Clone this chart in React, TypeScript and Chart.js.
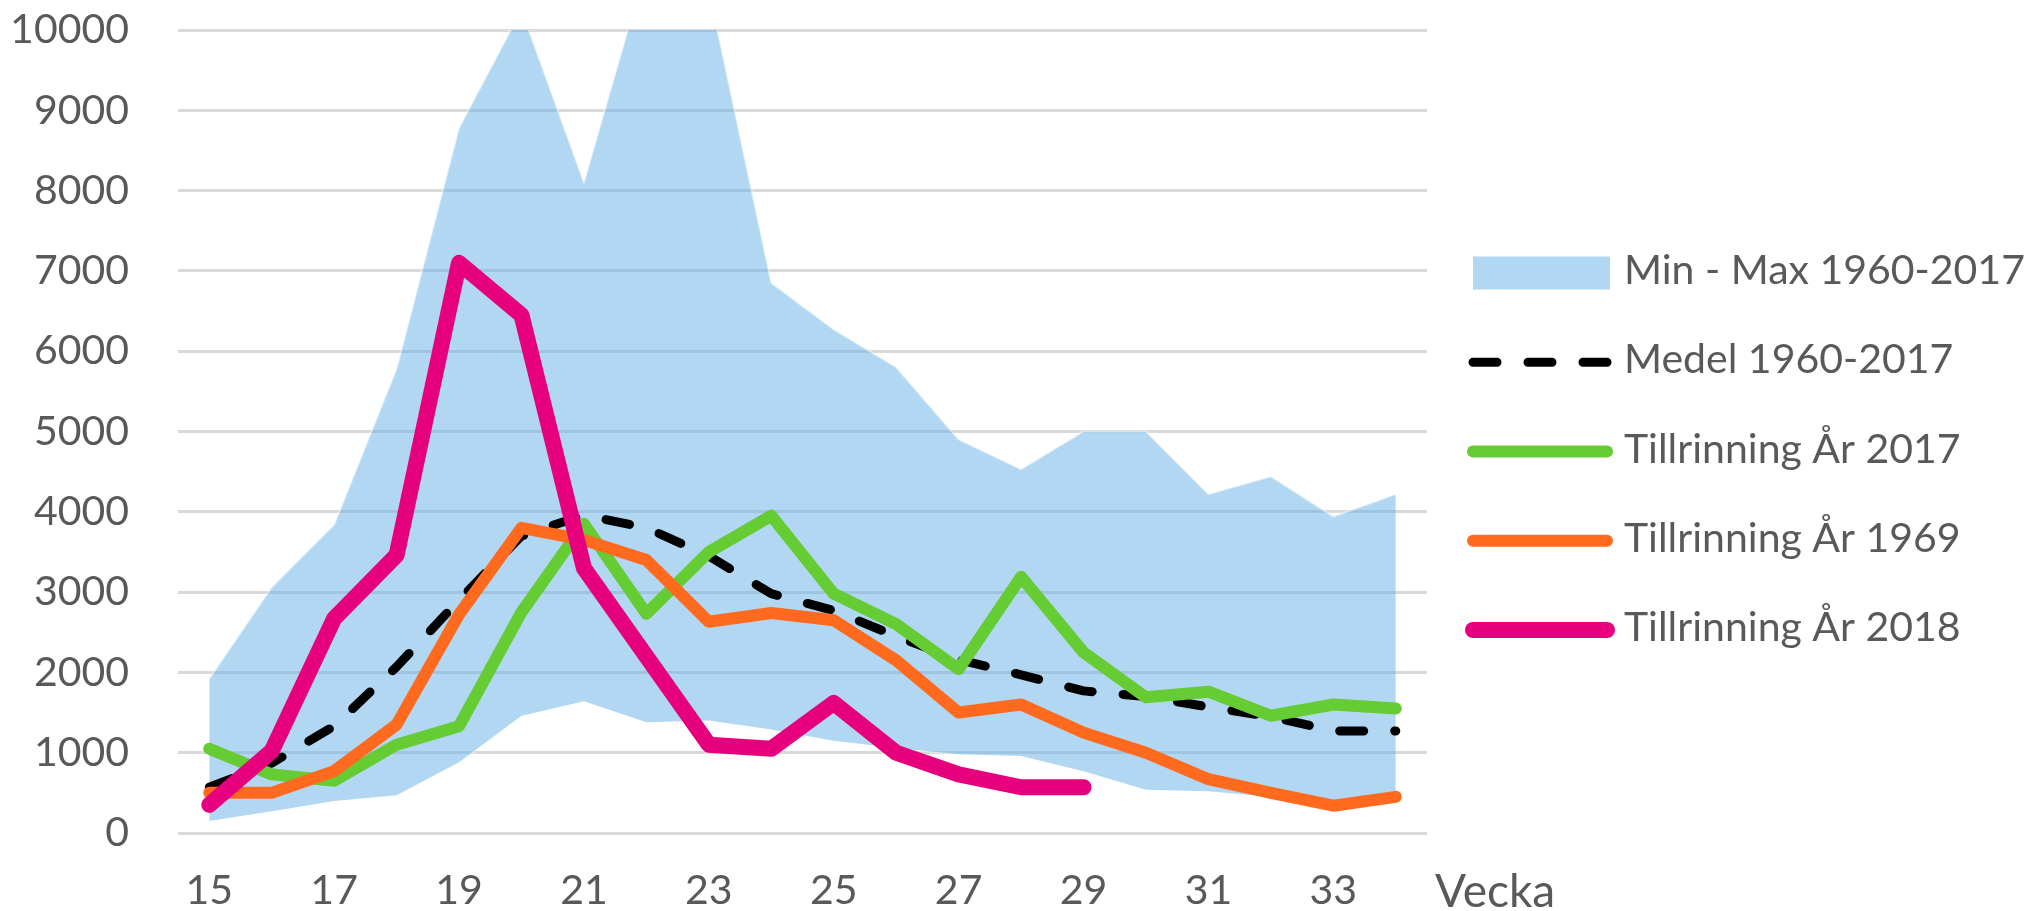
import React, { useEffect, useRef } from 'react';
import { Chart, registerables } from 'chart.js';

Chart.register(...registerables);

// ---- data ----
const weeks = ['15', '16', '17', '18', '19', '20', '21', '22', '23', '24', '25', '26', '27', '28', '29', '30', '31', '32', '33', '34'];
const minFlow = [150, 270, 400, 470, 880, 1460, 1640, 1380, 1400, 1290, 1150, 1060, 980, 960, 770, 540, 520, 450, 330, 400];
const maxFlow = [1920, 3060, 3840, 5780, 8780, 10250, 8100, 10800, 10500, 6850, 6270, 5800, 4900, 4530, 5000, 5000, 4220, 4440, 3940, 4220];
const meanFlow = [570, 870, 1330, 2070, 2900, 3700, 3960, 3800, 3450, 2980, 2770, 2450, 2160, 1970, 1770, 1700, 1570, 1450, 1270, 1270];
const flow2017 = [1050, 730, 650, 1100, 1330, 2750, 3850, 2730, 3500, 3950, 2980, 2600, 2040, 3190, 2250, 1690, 1760, 1460, 1600, 1550];
const flow1969 = [500, 500, 770, 1350, 2720, 3800, 3650, 3400, 2630, 2740, 2650, 2150, 1500, 1600, 1250, 1000, 670, 500, 340, 450];
const flow2018 = [350, 1020, 2670, 3460, 7100, 6450, 3300, 2200, 1100, 1050, 1620, 1000, 730, 570, 570, null, null, null, null, null];
const yTicks = { min: 0, max: 10000, step: 1000 };
const xTitle = 'Vecka';

const FONT_FAMILY = 'Lato, "Open Sans", sans-serif';
const TEXT_COLOR = '#595959';
const FONT_SIZE = 41;
const FONT_WEIGHT = 400;

const AREA_COLOR = 'rgba(100, 175, 230, 0.5)';
const AREA_EDGE = 'rgba(255, 255, 255, 0.45)';

const LEGEND_X0 = 1473;
const LEGEND_X1 = 1607;
const LEGEND_TEXT_X = 1624;
const LEGEND_TOP = 273;
const LEGEND_STEP = 89.25;

const overlayPlugin = {
  id: 'overlayText',
  afterDraw(chart: any) {
    const ctx = chart.ctx;
    ctx.save();
    const font = `${FONT_WEIGHT} ${FONT_SIZE}px ${FONT_FAMILY}`;
    const items = chart.data.datasets.filter((d: any) => d.inLegend !== false);
    items.forEach((d: any, k: number) => {
      const y = LEGEND_TOP + k * LEGEND_STEP;
      if (d.fill) {
        ctx.fillStyle = d.backgroundColor;
        ctx.fillRect(LEGEND_X0, y - 16.5, 137, 33);
      } else {
        ctx.beginPath();
        ctx.strokeStyle = d.borderColor;
        ctx.lineWidth = d.borderWidth;
        ctx.lineCap = 'round';
        ctx.setLineDash(d.borderDash || []);
        ctx.moveTo(LEGEND_X0, y);
        ctx.lineTo(LEGEND_X1, y);
        ctx.stroke();
        ctx.setLineDash([]);
      }
      ctx.fillStyle = TEXT_COLOR;
      ctx.font = font;
      ctx.textAlign = 'left';
      ctx.textBaseline = 'alphabetic';
      ctx.fillText(d.label, LEGEND_TEXT_X, y + 11);
    });
    ctx.fillStyle = TEXT_COLOR;
    ctx.font = `${FONT_WEIGHT} 46px ${FONT_FAMILY}`;
    ctx.textAlign = 'left';
    ctx.textBaseline = 'alphabetic';
    ctx.fillText(xTitle, 1435, 907);
    ctx.restore();
  },
};

export default function App() {
  const canvasRef = useRef<HTMLCanvasElement | null>(null);

  useEffect(() => {
    if (!canvasRef.current) return;
    const lineBase = {
      pointRadius: 0,
      pointHoverRadius: 0,
      tension: 0,
      fill: false,
      borderCapStyle: 'round',
      borderJoinStyle: 'round',
    };
    const chart = new Chart(canvasRef.current, {
      type: 'line',
      data: {
        labels: weeks,
        datasets: [
          {
            label: 'Min - Max 1960-2017',
            data: maxFlow,
            fill: '+1',
            backgroundColor: AREA_COLOR,
            borderColor: AREA_EDGE,
            borderWidth: 2,
            pointRadius: 0,
            tension: 0,
            order: 10,
          },
          {
            label: 'Min 1960-2017',
            data: minFlow,
            fill: false,
            backgroundColor: AREA_COLOR,
            borderColor: AREA_EDGE,
            borderWidth: 2,
            pointRadius: 0,
            tension: 0,
            order: 11,
            inLegend: false,
          },
          {
            ...lineBase,
            label: 'Medel 1960-2017',
            data: meanFlow,
            borderColor: '#000000',
            borderWidth: 9,
            borderDash: [24, 31],
            order: 5,
          },
          {
            ...lineBase,
            label: 'Tillrinning År 2017',
            data: flow2017,
            borderColor: '#66CC33',
            borderWidth: 12,
            order: 4,
          },
          {
            ...lineBase,
            label: 'Tillrinning År 1969',
            data: flow1969,
            borderColor: '#FF6A1F',
            borderWidth: 12,
            order: 3,
          },
          {
            ...lineBase,
            label: 'Tillrinning År 2018',
            data: flow2018,
            borderColor: '#E6007E',
            borderWidth: 16,
            spanGaps: false,
            order: 2,
          },
        ] as any,
      },
      options: {
        responsive: false,
        animation: false,
        devicePixelRatio: 1,
        layout: { padding: { left: 0, top: 30, right: 614, bottom: 0 } },
        plugins: {
          legend: { display: false },
          tooltip: { enabled: false },
        },
        scales: {
          x: {
            type: 'category',
            offset: true,
            grid: { display: false, drawTicks: false },
            border: { display: false },
            ticks: {
              autoSkip: false,
              maxRotation: 0,
              minRotation: 0,
              padding: 33,
              color: TEXT_COLOR,
              font: { family: FONT_FAMILY, size: FONT_SIZE, weight: FONT_WEIGHT as any },
              callback: (_v: any, i: number) => (i % 2 === 0 ? weeks[i] : ''),
            },
            afterFit: (scale: any) => {
              scale.height = 78;
            },
          },
          y: {
            min: yTicks.min,
            max: yTicks.max,
            grid: {
              color: '#D9D9D9',
              lineWidth: 3,
              drawTicks: true,
              tickLength: 49,
              tickColor: 'rgba(0,0,0,0)',
            },
            border: { display: false },
            ticks: {
              stepSize: yTicks.step,
              padding: 0,
              color: TEXT_COLOR,
              font: { family: FONT_FAMILY, size: FONT_SIZE, weight: FONT_WEIGHT as any },
              callback: (v: any) => String(v),
            },
            afterFit: (scale: any) => {
              scale.width = 178;
            },
          },
        },
      } as any,
      plugins: [overlayPlugin],
    });
    return () => chart.destroy();
  }, []);

  return (
    <div style={{ position: 'absolute', left: 0, top: 0, width: 2041, height: 911, background: '#ffffff' }}>
      <canvas ref={canvasRef} width={2041} height={911} style={{ display: 'block' }} />
    </div>
  );
}
